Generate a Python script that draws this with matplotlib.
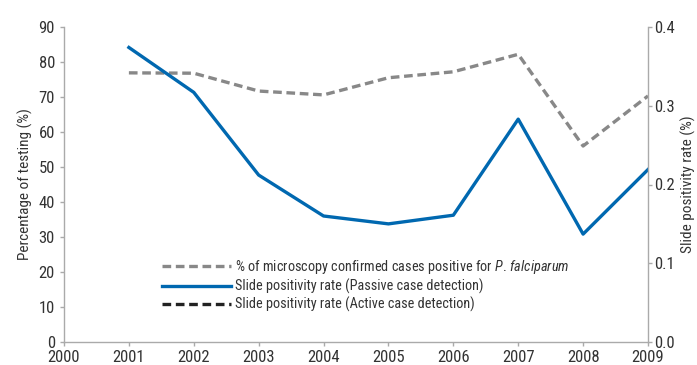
import matplotlib
matplotlib.use("Agg")
import matplotlib.pyplot as plt
from matplotlib.lines import Line2D
from matplotlib import font_manager

years = [2001, 2002, 2003, 2004, 2005, 2006, 2007, 2008, 2009]
pct_falciparum = [76.9, 76.8, 71.7, 70.6, 75.5, 77.2, 82.2, 56.0, 70.3]
spr_passive = [0.374, 0.317, 0.212, 0.160, 0.150, 0.161, 0.283, 0.137, 0.219]
spr_active = []
left_ticks = [0, 10, 20, 30, 40, 50, 60, 70, 80, 90]
right_ticks = [0.0, 0.1, 0.2, 0.3, 0.4]
x_ticks = list(range(2000, 2010))

names = {f.name for f in font_manager.fontManager.ttflist}
cands = ['Roboto Condensed', 'Liberation Sans Narrow', 'Open Sans Condensed', 'DejaVu Sans Condensed', 'Roboto']
main = [c for c in cands if c in names][:1]
plt.rcParams['font.family'] = main + ['DejaVu Sans']
if main:
    plt.rcParams['mathtext.fontset'] = 'custom'
    plt.rcParams['mathtext.it'] = main[0] + ':italic'
    plt.rcParams['mathtext.rm'] = main[0]
txt = '#333333'
spine_c = '#aaaaaa'

fig = plt.figure(figsize=(6.97, 3.65), dpi=100)
ax = fig.add_axes([64/697, 23/365, (648-64)/697, (342-27)/365])
ax2 = ax.twinx()

ax.plot(years, pct_falciparum, color='#888888', lw=2.4, ls=(0, (2.6, 1.4)))
ax2.plot(years, spr_passive, color='#0068b0', lw=2.4)
ax2.plot(years[:len(spr_active)], spr_active, color='#222222', lw=2.4, ls=(0, (2.6, 1.4)))

ax.set_xlim(2000, 2009)
ax.set_ylim(0, 90)
ax2.set_ylim(0, 0.4)
ax.set_xticks(x_ticks)
ax.set_yticks(left_ticks)
ax2.set_yticks(right_ticks)
ax2.set_yticklabels([f"{v:.1f}" for v in right_ticks])

for a in (ax, ax2):
    a.spines['top'].set_visible(False)
    for s in ('left', 'right', 'bottom'):
        a.spines[s].set_color(spine_c)
        a.spines[s].set_linewidth(1.0)
    a.tick_params(colors=spine_c, labelcolor=txt, labelsize=12, length=3, width=1)
ax.tick_params(axis='x', pad=2.5)
ax.tick_params(axis='y', pad=3.5)
ax2.tick_params(axis='y', pad=1.5)
ax2.spines['left'].set_visible(False)
ax.spines['right'].set_visible(False)
ax2.spines['bottom'].set_visible(False)

ax.set_ylabel('Percentage of testing (%)', color=txt, fontsize=11, labelpad=4)
ax2.set_ylabel('Slide positivity rate (%)', color=txt, fontsize=11, labelpad=4)

handles = [
    Line2D([], [], color='#888888', lw=2.4, ls=(0, (2.6, 1.4))),
    Line2D([], [], color='#0068b0', lw=2.4),
    Line2D([], [], color='#222222', lw=2.4, ls=(0, (2.6, 1.4))),
]
labels = ['% of microscopy confirmed cases positive for $\\it{P.}$$\\it{\\,falciparum}$',
          'Slide positivity rate (Passive case detection)',
          'Slide positivity rate (Active case detection)']
leg = fig.legend(handles, labels, loc='upper left', bbox_to_anchor=(162/697, 1 - 258/365),
                 frameon=False, fontsize=10.3, handlelength=4.8, handletextpad=0.3,
                 labelspacing=0.2, borderpad=0, borderaxespad=0)
for t in leg.get_texts():
    t.set_color(txt)

fig.savefig('out.png', dpi=100)
